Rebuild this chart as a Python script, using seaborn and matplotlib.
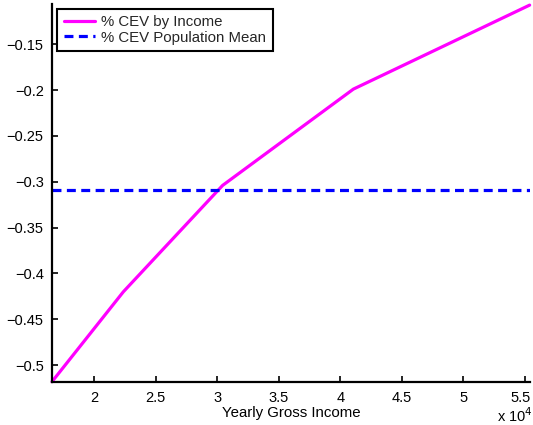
import matplotlib
matplotlib.use("Agg")
import matplotlib.pyplot as plt
import matplotlib.transforms as mtransforms
import seaborn as sns
import pandas as pd
import numpy as np

# Consumption-equivalent variation by income level
income = [16570, 22370, 30440, 41070, 55400]
cev_by_income = [-0.518, -0.420, -0.304, -0.199, -0.1074]
cev_population_mean = -0.3086

x_ticks = [20000, 25000, 30000, 35000, 40000, 45000, 50000, 55000]
x_tick_labels = ["2", "2.5", "3", "3.5", "4", "4.5", "5", "5.5"]
y_ticks = [-0.5, -0.45, -0.4, -0.35, -0.3, -0.25, -0.2, -0.15]
y_tick_labels = ["\u22120.5", "\u22120.45", "\u22120.4", "\u22120.35", "\u22120.3",
                 "\u22120.25", "\u22120.2", "\u22120.15"]

sns.set_theme(style="white")
plt.rcParams["font.family"] = ["Liberation Sans", "DejaVu Sans"]

fig = plt.figure(figsize=(5.33, 4.25), dpi=100)
ax = fig.add_axes([0.0976, 0.102, 0.8977, 0.889])

df = pd.DataFrame({"income": income, "cev": cev_by_income})
sns.lineplot(data=df, x="income", y="cev", ax=ax, color="#ff00ff",
             linewidth=2.3, label="% CEV by Income", clip_on=False)
ax.axhline(cev_population_mean, color="#0000ff", linewidth=2.3,
           linestyle=(0, (2.8, 1.7)), label="% CEV Population Mean")

ax.set_xlim(16570, 55470)
ax.set_ylim(-0.518, -0.106)
ax.set_xticks(x_ticks)
ax.set_xticklabels(x_tick_labels)
ax.set_yticks(y_ticks)
ax.set_yticklabels(y_tick_labels)
ax.tick_params(direction="in", length=4.5, width=1.2, color="black",
               labelsize=10.5, labelcolor="black",
               bottom=True, left=True)
ax.tick_params(axis="x", pad=6.8)
ax.tick_params(axis="y", pad=6)

# keep the last x tick label inside the figure edge
last_label = ax.get_xticklabels()[-1]
last_label.set_transform(last_label.get_transform() +
                         mtransforms.ScaledTranslation(-4 / 100, 0, fig.dpi_scale_trans))

for side in ["top", "right"]:
    ax.spines[side].set_visible(False)
for side in ["left", "bottom"]:
    ax.spines[side].set_color("black")
    ax.spines[side].set_linewidth(1.6)

ax.set_xlabel("Yearly Gross Income", fontsize=10.8, color="black", labelpad=0.3)
ax.set_ylabel("")
fig.text(0.932, 0.006, r"x 10$^{4}$", fontsize=10.5, color="black")

leg = ax.legend(loc="upper left", bbox_to_anchor=(0.005, 0.995), fontsize=10.8,
                frameon=True, fancybox=False, borderpad=0.42,
                handlelength=2.1, handletextpad=0.4, labelspacing=0.1,
                borderaxespad=0.2)
leg.get_frame().set_edgecolor("black")
leg.get_frame().set_linewidth(1.5)
leg.get_frame().set_alpha(1)

fig.savefig("out.png", dpi=100)
